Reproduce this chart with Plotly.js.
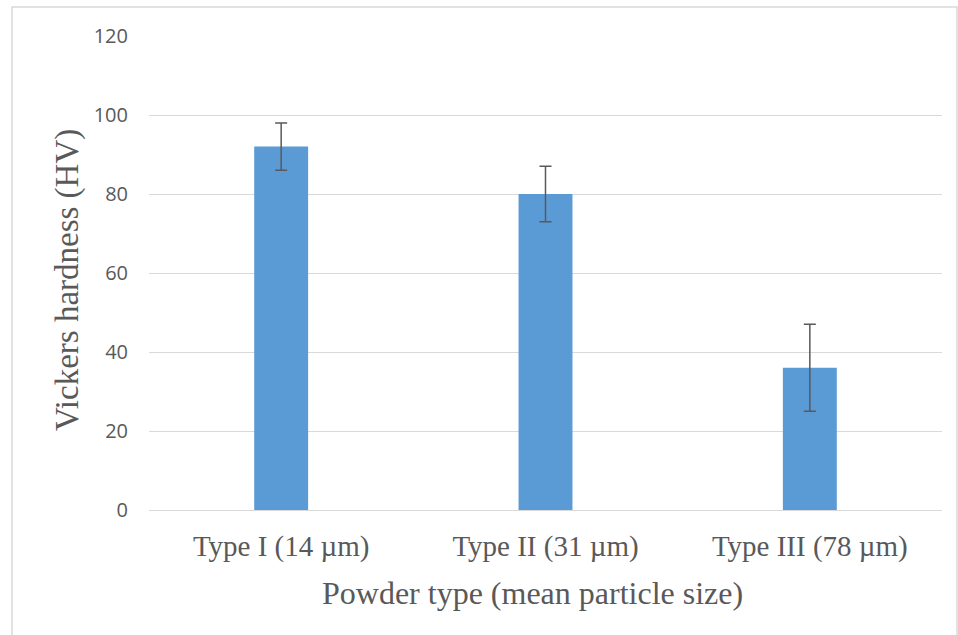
<!DOCTYPE html>
<html><head><meta charset="utf-8">
<script src="https://cdn.plot.ly/plotly-3.0.1.min.js"></script>
<style>body{margin:0;background:#fff}#chart{width:958px;height:635px}</style>
</head><body><div id="chart"></div>
<script>
const categories = ["Type I (14 µm)", "Type II (31 µm)", "Type III (78 µm)"];
const hardness = [92, 80, 36];
const errors = [6, 7, 11];
const yTicks = [0, 20, 40, 60, 80, 100, 120];
const xTitle = 'Powder type (mean particle size)';
const yTitle = 'Vickers hardness (HV)';

const L = 149, R = 16, T = 36, B = 125, W = 958, H = 635;
const pw = W - L - R, ph = H - T - B;
const px = v => (v - L) / pw;
const py = v => (H - B - v) / ph;

Plotly.newPlot('chart', [{
  type: 'bar', x: categories, y: hardness,
  marker: {color: '#5B9BD5'},
  error_y: {type: 'data', array: errors, visible: true, color: '#595959', thickness: 1.5, width: 6},
  hoverinfo: 'none'
}], {
  width: W, height: H,
  margin: {l: L, r: R, t: T, b: B},
  paper_bgcolor: '#fff', plot_bgcolor: '#fff',
  bargap: 0.796,
  showlegend: false,
  xaxis: {
    tickfont: {family: 'Liberation Serif', size: 29, color: '#595959'},
    showline: false, ticks: '', showgrid: false, automargin: false,
    ticklabelstandoff: 16
  },
  yaxis: {
    range: [0, 120], tickvals: yTicks,
    tickfont: {family: 'Open Sans', size: 20, color: '#595959'},
    gridcolor: '#D9D9D9', gridwidth: 1, zeroline: true, zerolinecolor: '#D9D9D9', zerolinewidth: 1,
    showline: false, ticks: '', ticklabelstandoff: 20, automargin: false
  },
  annotations: [
    {text: xTitle, xref: 'paper', yref: 'paper', x: px(532), y: py(593), xanchor: 'center', yanchor: 'middle',
     showarrow: false, font: {family: 'Liberation Serif', size: 32, color: '#595959'}},
    {text: yTitle, xref: 'paper', yref: 'paper', x: px(67), y: py(280), xanchor: 'center', yanchor: 'middle',
     textangle: -90, showarrow: false, font: {family: 'Liberation Serif', size: 33, color: '#595959'}}
  ],
  shapes: [{
    type: 'rect', xref: 'paper', yref: 'paper',
    x0: px(12), x1: px(957), y0: py(640), y1: py(7),
    line: {color: '#D9D9D9', width: 1.5}, fillcolor: 'rgba(0,0,0,0)', layer: 'below'
  }]
}, {staticPlot: true});
</script></body></html>
